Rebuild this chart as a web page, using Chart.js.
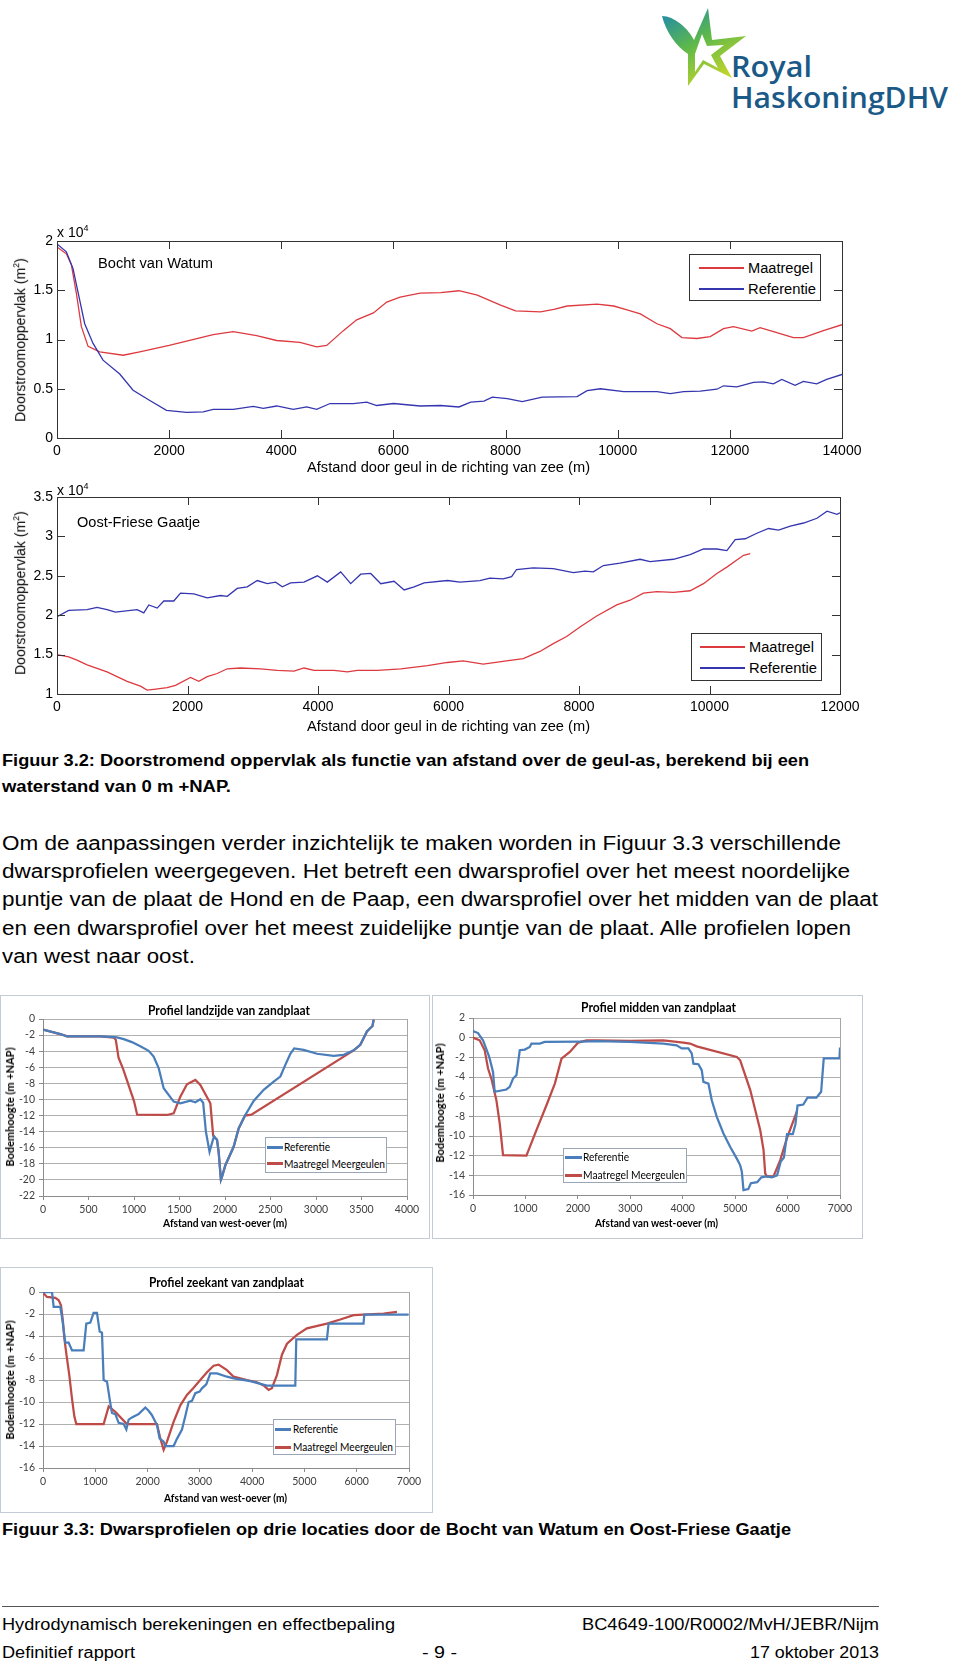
<!DOCTYPE html>
<html lang="nl">
<head>
<meta charset="utf-8">
<title>Figuur 3.2 en 3.3</title>
<script src="https://cdn.jsdelivr.net/npm/chart.js@4.4.1/dist/chart.umd.min.js"></script>
<style>
  body { margin: 0; background: #fff; }
  #page { position: relative; width: 960px; height: 1665px; overflow: hidden; font-family: "Liberation Sans", Arial, sans-serif; color: #000; }
  .t { position: absolute; white-space: nowrap; transform-origin: 0 50%; }
  .body { font-size: 20px; line-height: 24px; }
  .cap { font-size: 16px; line-height: 20px; font-weight: bold; }
  .foot { font-size: 16px; line-height: 20px; }
  .ml { font-size: 14px; line-height: 18px; }
  .xl { font-family: Lato, "Open Sans", sans-serif; font-size: 11px; line-height: 14px; }
  .b { font-weight: bold; }
  .rot { transform: translate(-50%, -50%) rotate(-90deg); transform-origin: 50% 50%; }
  canvas { position: absolute; }
  .box { position: absolute; border: 1px solid #c3cbd5; box-sizing: border-box; }
  .lg { position: absolute; background: #fff; box-sizing: border-box; }
  .sw { position: absolute; }
  .logo { position: absolute; color: #1b5a87; font-family: "Open Sans", sans-serif; font-weight: 600; white-space: nowrap; transform-origin: 0 50%; }
</style>
</head>
<body>
<div id="page">

  <!-- logo -->
  <svg style="position:absolute;left:658px;top:6px" width="90" height="82" viewBox="0 0 90 82">
    <defs>
      <linearGradient id="lg1" x1="0" y1="0" x2="0.6" y2="1">
        <stop offset="0" stop-color="#1a86b4"/>
        <stop offset="0.5" stop-color="#5db84a"/>
        <stop offset="1" stop-color="#c6d62a"/>
      </linearGradient>
    </defs>
    <path d="M4 10 C16 10 30 22 36 34 L50 2 L54 34 L88 30 L62 50 L74 72 L46 58 L30 80 L30 48 C18 40 8 26 4 10 Z" fill="url(#lg1)"/>
    <path d="M44 28 L49 40 L66 39 L53 49 L60 62 L45 54 L37 66 L37 48 Z" fill="#fff"/>
  </svg>
  <div class="logo" style="left:731px;top:50px;font-size:29px;line-height:32px" data-w="81">Royal</div>
  <div class="logo" style="left:731px;top:81px;font-size:29px;line-height:32px" data-w="217">HaskoningDHV</div>

  <!-- Matlab figure 1 -->
  <canvas id="c1" width="870" height="270" style="left:0;top:205px"></canvas>
  <div class="t ml" style="left:57px;top:219px">x 10<sup style="font-size:9px">4</sup></div>
  <div class="t ml" style="left:98px;top:254px" data-w="115">Bocht van Watum</div>
  <div class="t ml rot" style="left:18px;top:340px">Doorstroomoppervlak (m<sup style="font-size:9px">2</sup>)</div>
  <div class="t ml" style="left:307px;top:458px" data-w="283">Afstand door geul in de richting van zee (m)</div>
  <div class="lg" style="left:689px;top:254px;width:132px;height:47px;border:1px solid #333"></div>
  <div class="sw" style="left:699px;top:267px;width:45px;height:1.5px;background:#dd3a40"></div>
  <div class="t ml" style="left:748px;top:259px" data-w="65">Maatregel</div>
  <div class="sw" style="left:699px;top:288px;width:45px;height:1.5px;background:#3535b0"></div>
  <div class="t ml" style="left:748px;top:280px" data-w="68">Referentie</div>

  <!-- Matlab figure 2 -->
  <canvas id="c2" width="870" height="275" style="left:0;top:460px"></canvas>
  <div class="t ml" style="left:57px;top:477px">x 10<sup style="font-size:9px">4</sup></div>
  <div class="t ml" style="left:77px;top:513px" data-w="123">Oost-Friese Gaatje</div>
  <div class="t ml rot" style="left:18px;top:593px">Doorstroomoppervlak (m<sup style="font-size:9px">2</sup>)</div>
  <div class="t ml" style="left:307px;top:717px" data-w="283">Afstand door geul in de richting van zee (m)</div>
  <div class="lg" style="left:691px;top:633px;width:131px;height:48px;border:1px solid #333"></div>
  <div class="sw" style="left:700px;top:646px;width:45px;height:1.5px;background:#dd3a40"></div>
  <div class="t ml" style="left:749px;top:638px" data-w="65">Maatregel</div>
  <div class="sw" style="left:700px;top:667px;width:45px;height:1.5px;background:#3535b0"></div>
  <div class="t ml" style="left:749px;top:659px" data-w="68">Referentie</div>

  <!-- text -->
  <div class="t cap" style="left:2px;top:751px" data-w="807">Figuur 3.2: Doorstromend oppervlak als functie van afstand over de geul-as, berekend bij een</div>
  <div class="t cap" style="left:2px;top:777px" data-w="229">waterstand van 0 m +NAP.</div>
  <div class="t body" style="left:2px;top:831px" data-w="839">Om de aanpassingen verder inzichtelijk te maken worden in Figuur 3.3 verschillende</div>
  <div class="t body" style="left:2px;top:859px" data-w="848">dwarsprofielen weergegeven. Het betreft een dwarsprofiel over het meest noordelijke</div>
  <div class="t body" style="left:2px;top:887px" data-w="876">puntje van de plaat de Hond en de Paap, een dwarsprofiel over het midden van de plaat</div>
  <div class="t body" style="left:2px;top:916px" data-w="849">en een dwarsprofiel over het meest zuidelijke puntje van de plaat. Alle profielen lopen</div>
  <div class="t body" style="left:2px;top:944px" data-w="193">van west naar oost.</div>

  <!-- Excel figure landzijde -->
  <div class="box" style="left:0;top:995px;width:430px;height:244px"></div>
  <canvas id="c3" width="430" height="244" style="left:0;top:995px"></canvas>
  <div class="t xl b" style="left:148px;top:1002px;font-size:13px;line-height:16px" data-w="162">Profiel landzijde van zandplaat</div>
  <div class="t xl b" style="left:163px;top:1216px" data-w="124">Afstand van west-oever (m)</div>
  <div class="t xl b rot" style="left:10px;top:1107px">Bodemhoogte (m +NAP)</div>
  <div class="lg" style="left:265px;top:1137px;width:122px;height:36px;border:1px solid #9aa6b6"></div>
  <div class="sw" style="left:267px;top:1146px;width:16px;height:2.5px;background:#4a7ebb"></div>
  <div class="t xl" style="left:284px;top:1140px" data-w="46">Referentie</div>
  <div class="sw" style="left:267px;top:1162px;width:16px;height:2.5px;background:#be4b48"></div>
  <div class="t xl" style="left:284px;top:1157px" data-w="101">Maatregel Meergeulen</div>

  <!-- Excel figure midden -->
  <div class="box" style="left:432px;top:995px;width:431px;height:244px"></div>
  <canvas id="c4" width="431" height="244" style="left:432px;top:995px"></canvas>
  <div class="t xl b" style="left:581px;top:999px;font-size:13px;line-height:16px" data-w="155">Profiel midden van zandplaat</div>
  <div class="t xl b" style="left:595px;top:1216px" data-w="123">Afstand van west-oever (m)</div>
  <div class="t xl b rot" style="left:440px;top:1103px">Bodemhoogte (m +NAP)</div>
  <div class="lg" style="left:563px;top:1148px;width:124px;height:35px;border:1px solid #9aa6b6"></div>
  <div class="sw" style="left:565px;top:1156px;width:17px;height:2.5px;background:#4a7ebb"></div>
  <div class="t xl" style="left:583px;top:1150px" data-w="46">Referentie</div>
  <div class="sw" style="left:565px;top:1174px;width:17px;height:2.5px;background:#be4b48"></div>
  <div class="t xl" style="left:583px;top:1168px" data-w="102">Maatregel Meergeulen</div>

  <!-- Excel figure zeekant -->
  <div class="box" style="left:0;top:1267px;width:433px;height:246px"></div>
  <canvas id="c5" width="433" height="246" style="left:0;top:1267px"></canvas>
  <div class="t xl b" style="left:149px;top:1274px;font-size:13px;line-height:16px" data-w="155">Profiel zeekant van zandplaat</div>
  <div class="t xl b" style="left:164px;top:1491px" data-w="123">Afstand van west-oever (m)</div>
  <div class="t xl b rot" style="left:10px;top:1380px">Bodemhoogte (m +NAP)</div>
  <div class="lg" style="left:273px;top:1419px;width:123px;height:36px;border:1px solid #9aa6b6"></div>
  <div class="sw" style="left:275px;top:1428px;width:16px;height:2.5px;background:#4a7ebb"></div>
  <div class="t xl" style="left:293px;top:1422px" data-w="45">Referentie</div>
  <div class="sw" style="left:275px;top:1446px;width:16px;height:2.5px;background:#be4b48"></div>
  <div class="t xl" style="left:293px;top:1440px" data-w="100">Maatregel Meergeulen</div>

  <div class="t cap" style="left:2px;top:1520px" data-w="789">Figuur 3.3: Dwarsprofielen op drie locaties door de Bocht van Watum en Oost-Friese Gaatje</div>

  <!-- footer -->
  <div style="position:absolute;left:2px;top:1606px;width:877px;border-top:1px solid #555"></div>
  <div class="t foot" style="left:2px;top:1615px" data-w="393">Hydrodynamisch berekeningen en effectbepaling</div>
  <div class="t foot" style="left:582px;top:1615px" data-w="297">BC4649-100/R0002/MvH/JEBR/Nijm</div>
  <div class="t foot" style="left:2px;top:1643px" data-w="133">Definitief rapport</div>
  <div class="t foot" style="left:422px;top:1643px" data-w="35">- 9 -</div>
  <div class="t foot" style="left:750px;top:1643px" data-w="129">17 oktober 2013</div>
</div>

<script>
// ---- Bocht van Watum (x in m, y in 10^4 m2) ----
const watumTicksX = [0, 2000, 4000, 6000, 8000, 10000, 12000, 14000];
const watumTicksY = [0, 0.5, 1, 1.5, 2];
const watumMaatX = [0,167,256,345,435,554,762,1180,1476,2000,2786,3143,3560,3917,4333,4631,4810,5107,5345,5643,5881,6119,6476,6843,7169,7496,7911,8178,8623,8861,9098,9632,9929,10166,10404,10700,10938,11145,11412,11650,11887,12065,12392,12540,12837,13134,13312,13668,14000];
const watumMaatY = [1.94,1.87,1.76,1.47,1.13,0.93,0.875,0.84,0.875,0.94,1.05,1.08,1.04,0.99,0.97,0.925,0.94,1.09,1.2,1.27,1.38,1.43,1.47,1.475,1.495,1.45,1.35,1.29,1.28,1.305,1.34,1.36,1.34,1.3,1.26,1.16,1.11,1.02,1.01,1.03,1.11,1.13,1.085,1.12,1.07,1.02,1.02,1.09,1.15];
const watumRefX = [0,167,286,405,494,643,821,1119,1357,1655,1952,2310,2607,2786,3143,3500,3679,3917,4214,4452,4631,4869,5286,5524,5702,6000,6476,6843,7169,7377,7614,7763,8030,8297,8653,9276,9454,9691,10107,10700,10938,11175,11472,11769,11887,12125,12421,12599,12777,12926,13163,13312,13549,13727,14000];
const watumRefY = [1.97,1.89,1.72,1.4,1.16,0.96,0.79,0.65,0.485,0.38,0.28,0.26,0.265,0.29,0.29,0.32,0.3,0.325,0.29,0.315,0.29,0.35,0.35,0.365,0.33,0.35,0.325,0.33,0.315,0.365,0.375,0.415,0.4,0.37,0.415,0.42,0.48,0.5,0.47,0.47,0.45,0.47,0.475,0.495,0.53,0.52,0.565,0.57,0.55,0.595,0.535,0.575,0.55,0.595,0.645];

// ---- Oost-Friese Gaatje ----
const gaatjeTicksX = [0, 2000, 4000, 6000, 8000, 10000, 12000];
const gaatjeTicksY = [1, 1.5, 2, 2.5, 3, 3.5];
const gaatjeMaatX = [0,179,307,461,767,1074,1279,1381,1484,1688,1816,2046,2174,2302,2455,2609,2813,3120,3376,3632,3785,3939,4246,4450,4604,4911,5269,5678,5985,6225,6532,6890,7146,7401,7606,7811,8015,8271,8578,8783,8987,9192,9448,9703,9908,10113,10266,10419,10522,10624];
const gaatjeMaatY = [1.50,1.47,1.43,1.37,1.28,1.16,1.10,1.05,1.06,1.08,1.11,1.21,1.16,1.22,1.26,1.32,1.33,1.32,1.30,1.29,1.33,1.30,1.30,1.28,1.30,1.30,1.32,1.36,1.40,1.42,1.38,1.42,1.45,1.54,1.64,1.73,1.85,1.99,2.13,2.19,2.28,2.30,2.29,2.31,2.40,2.53,2.61,2.70,2.76,2.78];
const gaatjeRefX = [0,179,461,614,767,895,1228,1330,1407,1535,1637,1790,1893,2097,2302,2506,2609,2762,2916,3069,3223,3350,3453,3581,3785,3990,4143,4348,4501,4655,4808,4962,5166,5320,5473,5627,5985,6174,6481,6634,6839,6967,7043,7299,7606,7913,8092,8220,8373,8629,8936,9090,9448,9703,9908,10113,10266,10394,10547,10726,10905,11059,11238,11442,11647,11801,11954,12000];
const gaatjeRefY = [1.98,2.06,2.07,2.10,2.07,2.04,2.07,2.03,2.13,2.09,2.18,2.18,2.28,2.27,2.22,2.25,2.24,2.34,2.36,2.44,2.40,2.42,2.36,2.41,2.42,2.50,2.42,2.55,2.40,2.52,2.53,2.40,2.43,2.32,2.36,2.41,2.44,2.42,2.44,2.47,2.46,2.49,2.58,2.60,2.59,2.54,2.56,2.55,2.63,2.66,2.71,2.68,2.71,2.77,2.84,2.84,2.82,2.96,2.97,3.04,3.10,3.08,3.13,3.17,3.23,3.32,3.28,3.30];

// ---- Profiel landzijde (m +NAP) ----
const landTicksX = [0, 500, 1000, 1500, 2000, 2500, 3000, 3500, 4000];
const landTicksY = [-22, -20, -18, -16, -14, -12, -10, -8, -6, -4, -2, 0];
const landRefX = [0,190,264,630,780,813,887,977,1069,1161,1216,1271,1326,1436,1509,1619,1674,1729,1760,1790,1830,1860,1880,1894,1912,1930,1955,1970,2004,2095,2150,2220,2315,2425,2535,2608,2663,2718,2760,2864,3011,3194,3304,3414,3487,3524,3560,3597,3620,3634];
const landRefY = [-1.33,-1.87,-2.16,-2.16,-2.25,-2.29,-2.5,-2.87,-3.4,-3.95,-4.66,-6.1,-8.6,-10.27,-10.48,-10.15,-10.35,-9.98,-10.4,-14.0,-16.5,-15.3,-14.6,-14.8,-15.0,-16.5,-19.96,-19.5,-18.17,-15.88,-13.6,-12.0,-10.19,-8.8,-7.78,-7.15,-5.7,-4.32,-3.65,-3.83,-4.32,-4.57,-4.45,-3.9,-3.2,-2.37,-1.54,-1.12,-0.9,-0.08];
const landMaatX = [0,190,264,630,780,800,830,880,1000,1035,1363,1436,1509,1582,1674,1729,1839,1870,1894,1912,1930,1955,1970,2004,2095,2150,2220,2290,3414,3487,3524,3560,3597,3620,3634];
const landMaatY = [-1.33,-1.87,-2.16,-2.16,-2.3,-2.6,-4.8,-6.2,-10.2,-11.9,-11.93,-11.73,-9.65,-8.11,-7.57,-8.19,-10.48,-14.5,-14.8,-15.0,-16.5,-19.96,-19.5,-18.17,-15.88,-13.6,-12.0,-11.9,-3.9,-3.2,-2.37,-1.54,-1.12,-0.9,-0.08];

// ---- Profiel midden ----
const middenTicksX = [0, 1000, 2000, 3000, 4000, 5000, 6000, 7000];
const middenTicksY = [-16, -14, -12, -10, -8, -6, -4, -2, 0, 2];
const middenRefX = [0,96,191,287,318,382,414,637,700,764,828,892,987,1083,1115,1274,1369,2070,2357,2994,3631,3885,3981,4108,4172,4204,4299,4363,4395,4490,4554,4650,4777,4904,5032,5095,5127,5159,5250,5300,5420,5500,5600,5700,5800,5870,5930,5990,6100,6150,6190,6300,6380,6550,6640,6690,6990,7000];
const middenRefY = [0.68,0.47,-0.27,-1.62,-2.13,-3.48,-5.5,-5.27,-5.0,-4.16,-3.82,-1.28,-1.21,-0.94,-0.6,-0.6,-0.44,-0.4,-0.35,-0.44,-0.6,-0.78,-1.1,-1.1,-1.6,-2.64,-2.7,-3.3,-4.5,-4.67,-6.36,-8.05,-9.74,-11.1,-12.3,-12.96,-13.6,-15.5,-15.4,-14.8,-14.7,-14.2,-14.1,-14.2,-14.0,-12.6,-12.2,-9.8,-9.8,-8.8,-6.9,-6.8,-6.1,-6.1,-5.5,-2.1,-2.1,-1.0];
const middenMaatX = [0,127,223,287,350,446,510,573,1019,1210,1401,1561,1688,1847,2006,2166,2357,2994,3631,4013,4140,4268,5032,5096,5287,5478,5541,5573,5605,5732,5860,5987,6178];
const middenMaatY = [0,-0.27,-1.28,-3.14,-4.16,-6.36,-8.73,-11.94,-12,-9.4,-6.87,-4.67,-2.13,-1.45,-0.5,-0.27,-0.27,-0.33,-0.27,-0.5,-0.6,-0.88,-1.96,-2.3,-5.3,-9.4,-11.4,-13.8,-14.1,-14.1,-12.45,-10.25,-7.5];

// ---- Profiel zeekant ----
const zeeTicksX = [0, 1000, 2000, 3000, 4000, 5000, 6000, 7000];
const zeeTicksY = [-16, -14, -12, -10, -8, -6, -4, -2, 0];
const zeeRefX = [0,172,204,331,363,427,490,554,777,828,905,968,1032,1084,1128,1160,1224,1287,1319,1383,1447,1543,1594,1638,1702,1829,1957,2020,2084,2180,2230,2307,2339,2498,2562,2658,2721,2785,2849,2913,2996,3040,3123,3200,3327,3518,3646,3964,4283,4825,4844,5430,5462,6130,6145,6992];
const zeeRefY = [0,0,-1.36,-1.36,-2.27,-4.6,-4.6,-5.3,-5.3,-2.87,-2.78,-1.9,-1.9,-3.6,-3.7,-8.0,-8.15,-10.1,-11.0,-11.1,-11.9,-12.0,-12.5,-11.6,-11.4,-11.1,-10.5,-10.8,-11.2,-12.1,-13.3,-13.6,-14.0,-14.0,-13.35,-12.5,-11.3,-10.0,-9.9,-9.2,-9.06,-8.76,-8.4,-7.4,-7.4,-7.7,-7.85,-8.1,-8.5,-8.5,-4.3,-4.3,-2.87,-2.87,-2.05,-2.05];
const zeeMaatX = [0,76,236,300,344,382,408,446,503,554,599,637,1160,1256,1383,1606,2180,2243,2307,2371,2498,2626,2753,2881,3008,3136,3263,3359,3518,3646,3900,4091,4219,4315,4378,4474,4570,4666,4857,5048,5430,5685,5940,6514,6770];
const zeeMaatY = [-0.06,-0.45,-0.54,-0.75,-1.2,-2.7,-4.2,-5.6,-7.55,-9.67,-11.3,-12.0,-12.0,-10.4,-10.9,-12.0,-12.0,-13.3,-14.35,-13.6,-11.8,-10.3,-9.36,-8.7,-8.0,-7.3,-6.7,-6.6,-7.1,-7.7,-8.0,-8.2,-8.5,-8.9,-8.75,-7.55,-5.7,-4.7,-3.9,-3.3,-2.87,-2.5,-2.1,-1.96,-1.8];

const matlabRed = "#dd3a40", matlabBlue = "#3535b0";
const excelBlue = "#4a7ebb", excelRed = "#be4b48";

function pts(xs, ys) {
    return xs.map((x, i) => ({ x: x, y: ys[i] }));
}

function fixedTicks(values) {
    return s => { s.ticks = values.map(v => ({ value: v })); };
}

// inward tick marks and a closed box, like a Matlab axes
const matlabFrame = {
    id: "matlabFrame",
    afterDatasetsDraw(chart) {
        const { ctx, chartArea: a, scales } = chart;
        const len = 8;
        ctx.save();
        ctx.strokeStyle = "#333";
        ctx.lineWidth = 1;
        ctx.beginPath();
        scales.x.ticks.forEach(t => {
            const px = Math.round(scales.x.getPixelForValue(t.value)) + 0.5;
            ctx.moveTo(px, a.bottom); ctx.lineTo(px, a.bottom - len);
            ctx.moveTo(px, a.top); ctx.lineTo(px, a.top + len);
        });
        scales.y.ticks.forEach(t => {
            const py = Math.round(scales.y.getPixelForValue(t.value)) + 0.5;
            ctx.moveTo(a.left, py); ctx.lineTo(a.left + len, py);
            ctx.moveTo(a.right, py); ctx.lineTo(a.right - len, py);
        });
        ctx.stroke();
        ctx.strokeRect(Math.round(a.left) + 0.5, Math.round(a.top) + 0.5, Math.round(a.width), Math.round(a.height));
        ctx.restore();
    }
};

// right edge of the Excel plot area
const excelFrame = {
    id: "excelFrame",
    beforeDatasetsDraw(chart) {
        const { ctx, chartArea: a } = chart;
        ctx.save();
        ctx.strokeStyle = "#a6a6a6";
        ctx.lineWidth = 1;
        ctx.beginPath();
        ctx.moveTo(Math.round(a.right) + 0.5, a.top);
        ctx.lineTo(Math.round(a.right) + 0.5, a.bottom);
        ctx.stroke();
        ctx.restore();
    }
};

function makeChart(id, o) {
    const matlab = o.style === "matlab";
    const font = matlab ? { family: "Liberation Sans", size: 14 } : { family: "Lato", size: 10.5 };
    const line = (label, xs, ys, color) => ({
        label: label,
        data: pts(xs, ys),
        showLine: true,
        borderColor: color,
        borderWidth: matlab ? 1.3 : 2.25,
        pointRadius: 0,
        tension: 0
    });
    return new Chart(document.getElementById(id), {
        type: "scatter",
        data: {
            datasets: [
                line("Referentie", o.refX, o.refY, matlab ? matlabBlue : excelBlue),
                line(matlab ? "Maatregel" : "Maatregel Meergeulen", o.maatX, o.maatY, matlab ? matlabRed : excelRed)
            ]
        },
        options: {
            responsive: false,
            animation: false,
            layout: { padding: { top: o.padTop, right: o.padRight, left: 0, bottom: 0 } },
            plugins: { legend: { display: false }, tooltip: { enabled: false } },
            scales: {
                x: {
                    type: "linear",
                    min: o.ticksX[0],
                    max: o.ticksX[o.ticksX.length - 1],
                    afterBuildTicks: fixedTicks(o.ticksX),
                    afterFit: s => { s.height = o.xHeight; },
                    grid: matlab
                        ? { display: false, drawTicks: false }
                        : { display: true, drawOnChartArea: false, drawTicks: true, tickLength: 4, color: "#8c8c8c" },
                    border: { display: !matlab, color: "#8c8c8c" },
                    ticks: { font: font, color: matlab ? "#000" : "#404040", padding: matlab ? 5 : 3, maxRotation: 0, autoSkip: false, callback: v => String(v) }
                },
                y: {
                    type: "linear",
                    min: o.ticksY[0],
                    max: o.ticksY[o.ticksY.length - 1],
                    afterBuildTicks: fixedTicks(o.ticksY),
                    afterFit: s => { s.width = o.yWidth; },
                    grid: matlab
                        ? { display: false, drawTicks: false }
                        : { display: true, drawTicks: true, tickLength: 4, color: "#b0b0b0", tickColor: "#8c8c8c" },
                    border: { display: !matlab, color: "#8c8c8c" },
                    ticks: { font: font, color: matlab ? "#000" : "#404040", padding: 4, autoSkip: false, callback: v => String(v) }
                }
            }
        },
        plugins: [matlab ? matlabFrame : excelFrame]
    });
}

makeChart("c1", { style: "matlab", ticksX: watumTicksX, ticksY: watumTicksY, refX: watumRefX, refY: watumRefY, maatX: watumMaatX, maatY: watumMaatY, padTop: 36, padRight: 28, yWidth: 57, xHeight: 37 });
makeChart("c2", { style: "matlab", ticksX: gaatjeTicksX, ticksY: gaatjeTicksY, refX: gaatjeRefX, refY: gaatjeRefY, maatX: gaatjeMaatX, maatY: gaatjeMaatY, padTop: 37, padRight: 30, yWidth: 57, xHeight: 41 });
makeChart("c3", { style: "excel", ticksX: landTicksX, ticksY: landTicksY, refX: landRefX, refY: landRefY, maatX: landMaatX, maatY: landMaatY, padTop: 24, padRight: 23, yWidth: 43, xHeight: 43 });
makeChart("c4", { style: "excel", ticksX: middenTicksX, ticksY: middenTicksY, refX: middenRefX, refY: middenRefY, maatX: middenMaatX, maatY: middenMaatY, padTop: 23, padRight: 23, yWidth: 41, xHeight: 44 });
makeChart("c5", { style: "excel", ticksX: zeeTicksX, ticksY: zeeTicksY, refX: zeeRefX, refY: zeeRefY, maatX: zeeMaatX, maatY: zeeMaatY, padTop: 25, padRight: 24, yWidth: 43, xHeight: 45 });

// squeeze each text line to the width it has in the scanned page
document.querySelectorAll("[data-w]").forEach(el => {
    const w = el.getBoundingClientRect().width;
    if (w > 0) el.style.transform = "scaleX(" + (+el.dataset.w / w) + ")";
});
</script>
</body>
</html>
